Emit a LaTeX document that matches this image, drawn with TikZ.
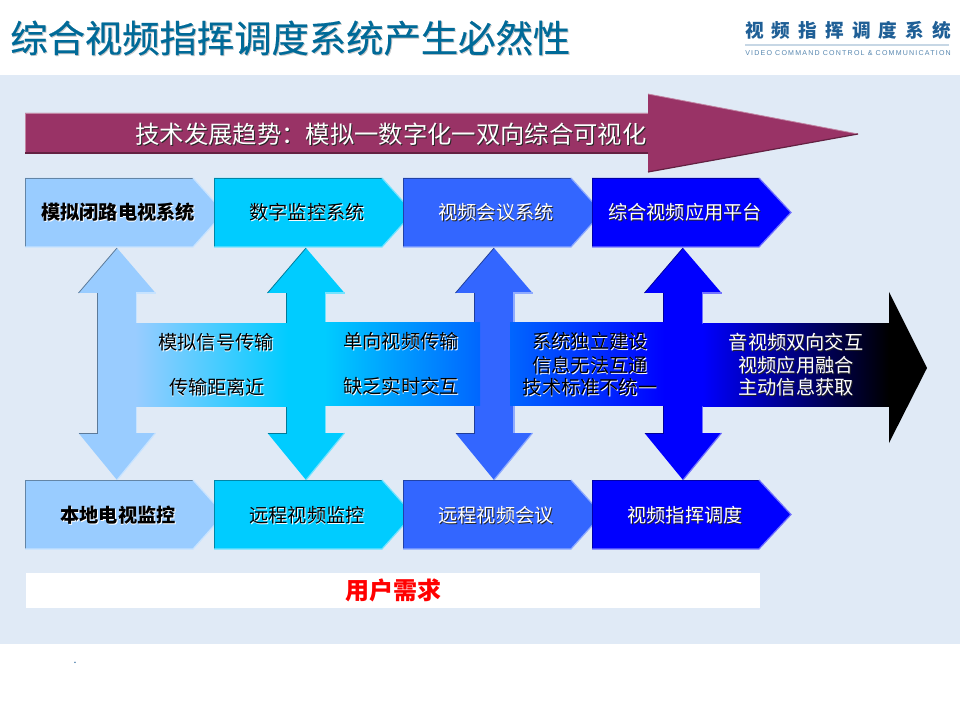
\documentclass[tikz,border=0pt]{standalone}
\usepackage{fontspec}
\setmainfont{Noto Sans CJK SC}
\newfontfamily\logofont[LetterSpace=43]{Noto Sans CJK SC}
\newfontfamily\logosub[LetterSpace=17]{Liberation Sans}
\newfontfamily\titlefont[FakeBold=0.5]{Noto Sans CJK SC}
\usepackage{xcolor}
\usetikzlibrary{positioning, calc}

\definecolor{panelblue}{HTML}{E0EAF6}
\definecolor{titleblue}{HTML}{006A98}
\definecolor{logoblue}{HTML}{1F5F96}
\definecolor{plum}{HTML}{993366}
\definecolor{paleblue}{HTML}{99CCFF}
\definecolor{skyblue}{HTML}{00CCFF}
\definecolor{midblue}{HTML}{3366FF}
\definecolor{barblue}{HTML}{0066FF}
\definecolor{deepblue}{HTML}{0000FF}

% five sided box: left, shoulder, tip, top, bottom, colour
\newcommand{\penta}[6]{
    \fill [#6] (#1,#4) -- (#2,#4) -- (#3,{(#4+#5)/2}) -- (#2,#5) -- (#1,#5) -- cycle;
    \draw [#6!65!black, line width=0.6pt] (#1,#5) -- (#1,#4) -- (#2,#4);
    \draw [#6!55!white, line width=0.9pt] (#1,#5) -- (#2,#5) -- (#3,{(#4+#5)/2}) -- (#2,#4);
}
% up and down arrow round a centre x, half width of shaft
\newcommand{\updown}[3]{
    \fill [#3] (#1,248) -- (#1+38.5,293) -- (#1+#2,293) -- (#1+#2,433) -- (#1+38.5,433) -- (#1,480)
        -- (#1-38.5,433) -- (#1-#2,433) -- (#1-#2,293) -- (#1-38.5,293) -- cycle;
    \draw [#3!60!black, line width=0.6pt] (#1-38.5,293) -- (#1,248);
    \draw [#3!60!black, line width=0.6pt] (#1-#2,293) -- (#1-#2,433) -- (#1-38.5,433);
    \draw [#3!55!white, line width=0.9pt] (#1+38.5,293) -- (#1+#2,293) -- (#1+#2,433);
    \draw [#3!55!white, line width=0.9pt] (#1+38.5,433) -- (#1,480);
}
% text with its offset shadow: style, text colour, shadow colour, name, place, text
\newcommand{\shtext}[6]{
    \node [#1, text=#3] (#4s) at ($(#5)+(0.9,0.9)$) {#6};
    \node [#1, text=#2] (#4) at (#5) {#6};
}

\begin{document}
\begin{tikzpicture}[
    x=0.75pt, y=-0.75pt,
    boxtext/.style={inner sep=0pt, font=\fontsize{14.4pt}{14.4pt}\selectfont},
    boldtext/.style={boxtext, font=\fontsize{14.4pt}{14.4pt}\selectfont\bfseries},
    trendtext/.style={inner sep=0pt, font=\fontsize{18.25pt}{18.25pt}\selectfont},
    titletext/.style={inner sep=0pt, anchor=west, font=\fontsize{28pt}{28pt}\selectfont\titlefont}
]
    \useasboundingbox (0,0) rectangle (960,720);
    \fill [white] (0,0) rectangle (960,720);
    \fill [panelblue] (0,75) rectangle (960,644);

    % header
    \shtext{titletext}{titleblue}{black!22}{title}{10,38}{综合视频指挥调度系统产生必然性}
    \node [inner sep=0pt, anchor=west, text=logoblue, font=\fontsize{14pt}{14pt}\selectfont\bfseries\logofont] (logo) at (745,30) {视频指挥调度系统};
    \draw [logoblue!25, line width=0.8pt] (745,45) -- (949,45);
    \node [inner sep=0pt, anchor=west, text=logoblue!75, font=\fontsize{5.3pt}{6pt}\selectfont\logosub] (logosub) at (745,53.5) {VIDEO COMMAND CONTROL \& COMMUNICATION};

    % trend arrow
    \fill [plum] (25,113) -- (648,113) -- (648,94) -- (858,134) -- (648,172) -- (648,153) -- (25,153) -- cycle;
    \draw [plum!60!white, line width=0.6pt] (25,153) -- (25,113) -- (648,113);
    \draw [plum!60!white, line width=0.6pt] (648,94) -- (858,134);
    \draw [plum!65!black, line width=0.9pt] (25,153) -- (648,153);
    \draw [plum!65!black, line width=0.9pt] (648,172) -- (858,134);
    \shtext{trendtext}{white}{black!85}{trend}{391,134}{技术发展趋势：模拟一数字化一双向综合可视化}

    % up and down arrows
    \updown{117}{19.5}{paleblue}
    \updown{306}{19.5}{skyblue}
    \updown{494}{20}{midblue}
    \updown{683}{19.5}{deepblue}

    % bands between the arrows
    \shade [left color=paleblue, right color=skyblue] (135.5,323) rectangle (287.5,406);
    \shade [left color=skyblue, right color=barblue] (324.5,322) rectangle (480,405);
    \shade [left color=barblue, right color=deepblue] (510,322) rectangle (664.5,405);
    \shade [left color=deepblue, right color=black] (702.5,323) rectangle (889,406);
    \fill [black] (889,292) -- (927,368) -- (889,443) -- cycle;

    % top row
    \penta{25}{193}{224}{178}{247}{paleblue}
    \penta{214}{382}{413}{178}{247}{skyblue}
    \penta{403}{571}{602}{178}{247}{midblue}
    \penta{592}{759}{791}{178}{247}{deepblue}
    \shtext{boldtext}{black}{white}{sysa}{118,212}{模拟闭路电视系统}
    \shtext{boxtext}{black}{white}{sysb}{307,212}{数字监控系统}
    \shtext{boxtext}{white}{black!85}{sysc}{496,212}{视频会议系统}
    \shtext{boxtext}{white}{black!85}{sysd}{685,212}{综合视频应用平台}

    % band texts
    \shtext{boxtext}{black}{white}{anaa}{216,342}{模拟信号传输}
    \shtext{boxtext}{black}{white}{anab}{217,387}{传输距离近}
    \shtext{boxtext}{black}{white}{diga}{401,341}{单向视频传输}
    \shtext{boxtext}{black}{white}{digb}{401,386}{缺乏实时交互}
    \shtext{boxtext}{black}{white}{meta}{590,341}{系统独立建设}
    \shtext{boxtext}{black}{white}{metb}{590,365}{信息无法互通}
    \shtext{boxtext}{black}{white}{metc}{590,387}{技术标准不统一}
    \shtext{boxtext}{white}{black!85}{inta}{796,342}{音视频双向交互}
    \shtext{boxtext}{white}{black!85}{intb}{796,365}{视频应用融合}
    \shtext{boxtext}{white}{black!85}{intc}{796,387}{主动信息获取}

    % bottom row
    \penta{25}{193}{224}{480}{549}{paleblue}
    \penta{214}{382}{413}{480}{549}{skyblue}
    \penta{403}{571}{602}{480}{549}{midblue}
    \penta{592}{759}{791}{480}{549}{deepblue}
    \shtext{boldtext}{black}{white}{usea}{118,515}{本地电视监控}
    \shtext{boxtext}{black}{white}{useb}{307,515}{远程视频监控}
    \shtext{boxtext}{white}{black!85}{usec}{496,515}{远程视频会议}
    \shtext{boxtext}{white}{black!85}{used}{685,515}{视频指挥调度}

    \node [fill=white, inner sep=0pt, minimum width=550.5pt, minimum height=26.25pt, text=red, font=\fontsize{18pt}{18pt}\selectfont\bfseries] (need) at (393,590.5) {用户需求};
    \node [inner sep=0pt, text=logoblue, font=\fontsize{8pt}{8pt}\selectfont] (dot) at (75,663) {.};
\end{tikzpicture}
\end{document}
